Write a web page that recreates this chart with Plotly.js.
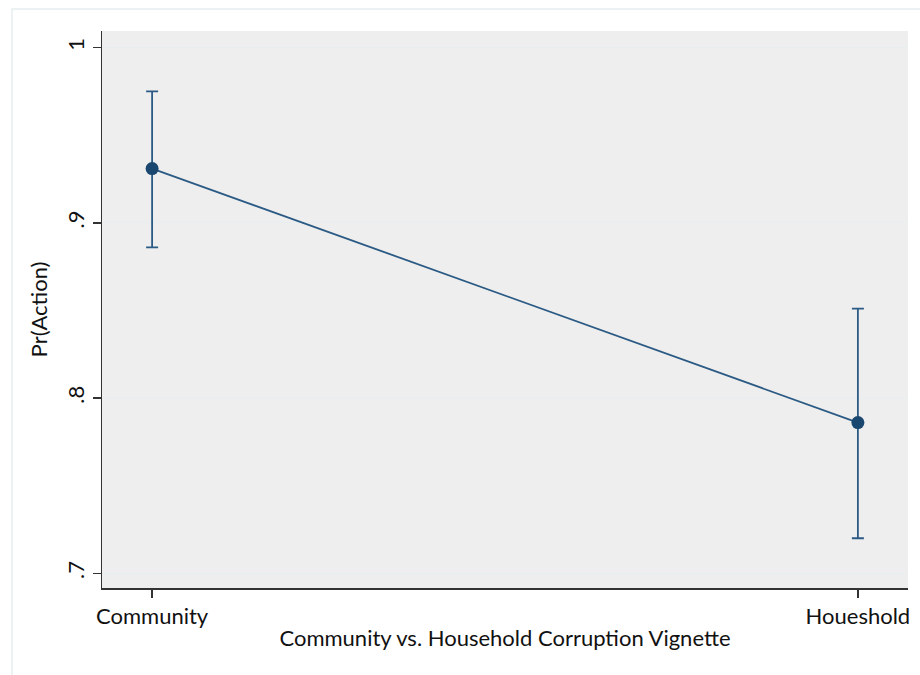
<!DOCTYPE html>
<html>
<head>
<meta charset="utf-8">
<script src="https://cdn.plot.ly/plotly-3.0.1.min.js"></script>
<style>html,body{margin:0;padding:0;background:#fff;}#chart{width:920px;height:675px;}</style>
</head>
<body>
<div id="chart"></div>
<script>
const categories = ["Community", "Houeshold"];
const estimates = [0.931, 0.786];
const upperCI = [0.975, 0.851];
const lowerCI = [0.886, 0.720];
const yTickVals = [0.7, 0.8, 0.9, 1];
const yTickText = [".7", ".8", ".9", "1"];

const xPos = categories.map((c, i) => i);
const errPlus = estimates.map((v, i) => upperCI[i] - v);
const errMinus = estimates.map((v, i) => v - lowerCI[i]);

const navy = "#1a476f";

const trace = {
  x: xPos,
  y: estimates,
  type: "scatter",
  mode: "lines+markers",
  line: {color: "#2b5a84", width: 1.8},
  marker: {color: navy, size: 13},
  error_y: {
    type: "data",
    symmetric: false,
    array: errPlus,
    arrayminus: errMinus,
    color: "#2b5a84",
    thickness: 1.8,
    width: 6
  },
  hoverinfo: "skip",
  showlegend: false
};

const font = "Lato, 'Open Sans', sans-serif";

const layout = {
  width: 920,
  height: 675,
  margin: {l: 102, r: 12, t: 31, b: 87},
  paper_bgcolor: "#ffffff",
  plot_bgcolor: "#eeeeee",
  font: {family: font, color: "#111", size: 22},
  xaxis: {
    range: [-0.071, 1.071],
    tickvals: xPos,
    ticktext: categories,
    ticks: "outside",
    ticklen: 8,
    tickwidth: 1.5,
    tickcolor: "#333",
    showline: true,
    linecolor: "#333",
    linewidth: 1.5,
    showgrid: false,
    zeroline: false,
    tickfont: {family: font, size: 22, color: "#111"},
    title: {text: "Community vs. Household Corruption Vignette", font: {family: font, size: 22, color: "#111"}, standoff: 2}
  },
  yaxis: {
    range: [0.6916, 1.0095],
    tickvals: yTickVals,
    ticktext: yTickText,
    tickangle: -90,
    ticks: "outside",
    ticklen: 8,
    tickwidth: 1.5,
    tickcolor: "#333",
    showline: true,
    linecolor: "#333",
    linewidth: 1.5,
    showgrid: true,
    gridcolor: "#e6eef0",
    gridwidth: 1,
    zeroline: false,
    tickfont: {family: font, size: 22, color: "#111"},
    title: {text: "Pr(Action)", font: {family: font, size: 22, color: "#111"}, standoff: 8}
  },
  shapes: [{
    type: "rect", xref: "paper", yref: "paper",
    x0: -0.1117, x1: 1.05, y0: -0.25, y1: 1.0395,
    line: {color: "#e6eef0", width: 1.5}, fillcolor: "rgba(0,0,0,0)", layer: "below"
  }]
};

Plotly.newPlot("chart", [trace], layout, {displayModeBar: false, staticPlot: true});
</script>
</body>
</html>
